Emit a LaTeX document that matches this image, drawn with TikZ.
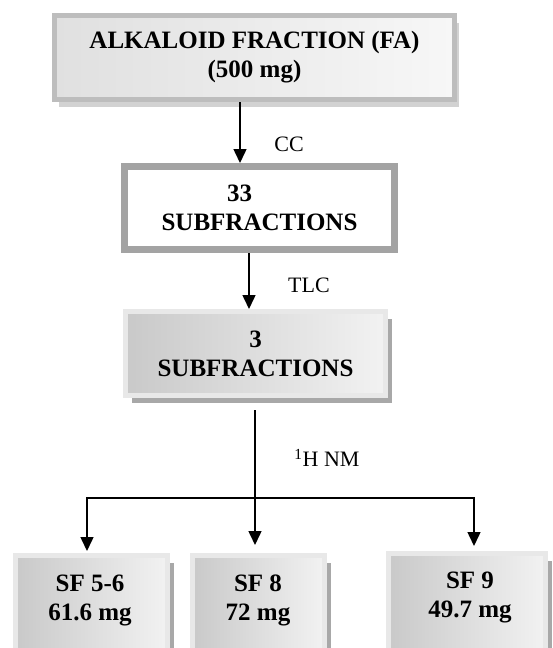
\documentclass[tikz,border=0pt]{standalone}
\usepackage{fontspec}
\setmainfont{Liberation Serif}
\usetikzlibrary{arrows.meta,shadows}
\definecolor{faFrame}{HTML}{BDBDBD}
\definecolor{faDark}{HTML}{E0E0E0}
\definecolor{faLight}{HTML}{F7F7F7}
\definecolor{faDrop}{HTML}{D2D2D2}
\definecolor{subFrame}{HTML}{A3A3A3}
\definecolor{sfFrame}{HTML}{E8E8E8}
\definecolor{sfDark}{HTML}{C9C9C9}
\definecolor{sfLight}{HTML}{F2F2F2}
\definecolor{sfDrop}{HTML}{A8A8A8}
\begin{document}
\begin{tikzpicture}[x=1pt, y=-1pt,
    box/.style={rectangle, inner sep=0pt, align=center, font=\fontsize{25}{29}\selectfont\bfseries},
    fabox/.style={box, draw=faFrame, line width=5pt, left color=faDark, right color=faLight,
        drop shadow={shadow xshift=4.5pt, shadow yshift=-7.5pt, fill=faDrop, opacity=1}},
    subbox/.style={box, draw=subFrame, line width=7pt, fill=white},
    sfbox/.style={box, draw=sfFrame, line width=5pt, left color=sfDark, right color=sfLight,
        drop shadow={shadow xshift=6.5pt, shadow yshift=-7.5pt, fill=sfDrop, opacity=1}},
    sftext/.style={inner sep=0pt, align=center, font=\fontsize{25}{29}\selectfont\bfseries},
    lbl/.style={inner sep=0pt, font=\fontsize{22}{26}\selectfont},
    arr/.style={line width=1.5pt, -{Triangle[width=13pt,length=14pt]}},
    link/.style={line width=1.5pt}]
    \clip (0,0) rectangle (552,648);
    \node[fabox, minimum width=400pt, minimum height=84pt] (fa) at (254.5,57.5) {ALKALOID FRACTION (FA)\\(500 mg)};
    \node[subbox, minimum width=270pt, minimum height=83pt] (s33) at (259.5,208) {33\hspace*{40pt}\\SUBFRACTIONS};
    \node[sfbox, minimum width=260pt, minimum height=84pt] (s3) at (255.5,353.5) {3\\SUBFRACTIONS};
    \node[sfbox, minimum width=152pt, minimum height=110pt, anchor=north] (sf56) at (91.5,553) {};
    \node[sfbox, minimum width=132pt, minimum height=110pt, anchor=north] (sf8) at (258.5,553) {};
    \node[sfbox, minimum width=157pt, minimum height=110pt, anchor=north] (sf9) at (467,551) {};
    \node[sftext] (sf56t) at (90,600) {SF 5-6\\61.6 mg};
    \node[sftext] (sf8t) at (258,600) {SF 8\\72 mg};
    \node[sftext] (sf9t) at (470,597) {SF 9\\49.7 mg};
    \node[lbl] (cc) at (289,144) {CC};
    \node[lbl] (tlc) at (309,285) {TLC};
    \node[lbl] (nmr) at (327,458) {\textsuperscript{1}H NM};
    \coordinate (split) at (255,498);
    \draw[arr] ([xshift=-14.5pt]fa.south) -- ([xshift=-19.5pt]s33.north);
    \draw[arr] ([xshift=-10.5pt]s33.south) -- ([xshift=-6.5pt]s3.north);
    \draw[link] ([xshift=-0.5pt,yshift=-12pt]s3.south) -- (split);
    \draw[arr, shorten >=2pt] (split) -| ([xshift=-4.5pt]sf56.north);
    \draw[arr, shorten >=8pt] (split) -- ([xshift=-3.5pt]sf8.north);
    \draw[arr, shorten >=5pt] (split) -| ([xshift=7pt]sf9.north);
\end{tikzpicture}
\end{document}
